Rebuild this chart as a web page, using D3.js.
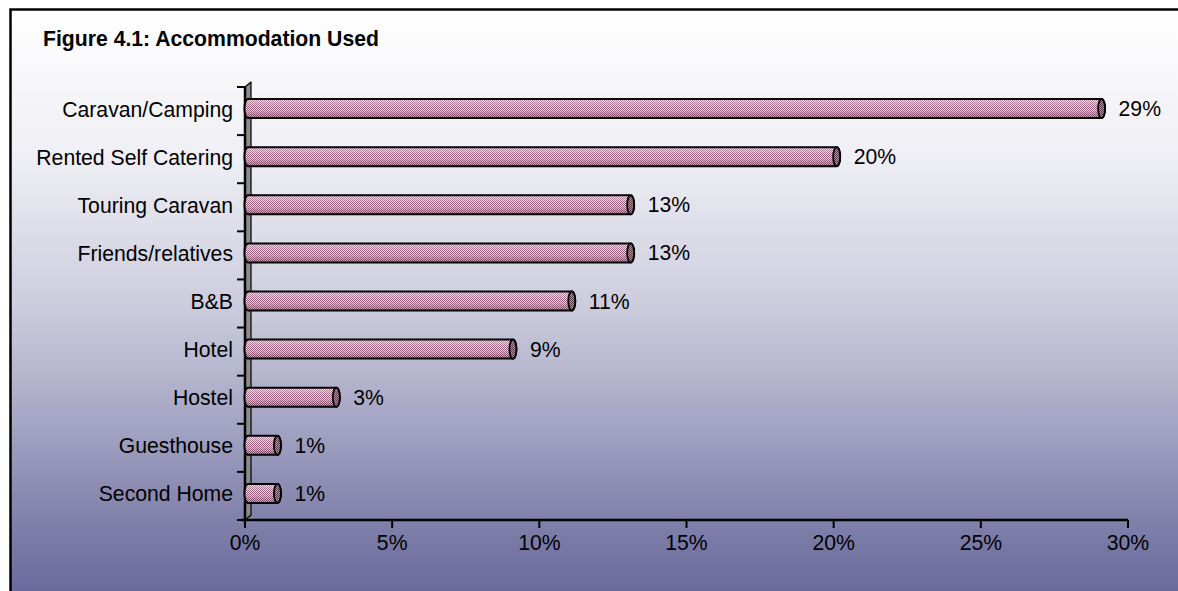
<!DOCTYPE html>
<html>
<head>
<meta charset="utf-8">
<script src="https://cdn.jsdelivr.net/npm/d3@7"></script>
<style>
  html, body { margin: 0; padding: 0; background: #ffffff; }
  svg { display: block; }
  text { font-family: "Liberation Sans", Arial, sans-serif; fill: #000; }
</style>
</head>
<body>
<svg id="chart" width="1178" height="591"></svg>
<script>
// Accommodation types and share of respondents (%)
const categories = [
  "Caravan/Camping",
  "Rented Self Catering",
  "Touring Caravan",
  "Friends/relatives",
  "B&B",
  "Hotel",
  "Hostel",
  "Guesthouse",
  "Second Home"
];
const values = [29, 20, 13, 13, 11, 9, 3, 1, 1];
const valueLabels = ["29%", "20%", "13%", "13%", "11%", "9%", "3%", "1%", "1%"];
const tickValues = [0, 5, 10, 15, 20, 25, 30];
const tickLabels = ["0%", "5%", "10%", "15%", "20%", "25%", "30%"];
const titleText = "Figure 4.1: Accommodation Used";

const W = 1178, H = 591;
const FS = 21.2;
const svg = d3.select("#chart");
const defs = svg.append("defs");

// chart area background: light at the top fading to slate blue at the bottom
const bg = defs.append("linearGradient")
  .attr("id", "bgGrad").attr("x1", 0).attr("y1", 0).attr("x2", 0).attr("y2", 1);
[[0, "#ffffff"], [0.25, "#eeeef4"], [0.5, "#cbcbdd"], [0.7, "#a2a2c2"], [0.85, "#8080aa"], [1, "#64649a"]]
  .forEach(([o, c]) => bg.append("stop").attr("offset", o).attr("stop-color", c));

// dithered mauve fill of the cylinders
const pat = defs.append("pattern")
  .attr("id", "pinkDots").attr("patternUnits", "userSpaceOnUse")
  .attr("width", 2).attr("height", 2);
pat.append("rect").attr("width", 2).attr("height", 2).attr("fill", "#e8d8e0");
pat.append("rect").attr("x", 0).attr("y", 0).attr("width", 1).attr("height", 1).attr("fill", "#9c6080");
pat.append("rect").attr("x", 1).attr("y", 1).attr("width", 1).attr("height", 1).attr("fill", "#9c6080");

const capPat = defs.append("pattern")
  .attr("id", "capDots").attr("patternUnits", "userSpaceOnUse")
  .attr("width", 2).attr("height", 2);
capPat.append("rect").attr("width", 2).attr("height", 2).attr("fill", "#b0909f");
capPat.append("rect").attr("x", 0).attr("y", 0).attr("width", 1).attr("height", 1).attr("fill", "#5e3a4c");
capPat.append("rect").attr("x", 1).attr("y", 1).attr("width", 1).attr("height", 1).attr("fill", "#5e3a4c");

// cylindrical shading laid over the pattern
const shade = defs.append("linearGradient")
  .attr("id", "cylShade").attr("x1", 0).attr("y1", 0).attr("x2", 0).attr("y2", 1);
[[0, "#ffffff", 0.3], [0.3, "#ffffff", 0.1], [0.6, "#000000", 0.0], [1, "#2a0018", 0.3]]
  .forEach(([o, c, a]) => shade.append("stop").attr("offset", o).attr("stop-color", c).attr("stop-opacity", a));

// page frame
svg.append("rect").attr("x", 0).attr("y", 0).attr("width", W).attr("height", H).attr("fill", "#ffffff");
svg.append("rect").attr("x", 10.5).attr("y", 9.5).attr("width", W + 10).attr("height", H + 10)
  .attr("fill", "url(#bgGrad)").attr("stroke", "#000").attr("stroke-width", 2.5);

// title
svg.append("text")
  .attr("x", 43).attr("y", 46)
  .attr("font-size", FS).attr("font-weight", "bold")
  .text(titleText);

// scales
const x = d3.scaleLinear().domain([0, 30]).range([245, 1128]);
const y = d3.scaleBand().domain(categories).range([87, 520]).paddingInner(0).paddingOuter(0);

// 3D depth offset of the plot
const dX = 6, dY = -5;

// side wall beside the category axis
const x0 = x(0), yTop = y.range()[0], yBot = y.range()[1];
svg.append("path")
  .attr("d", `M${x0},${yTop} L${x0 + dX},${yTop + dY} L${x0 + dX},${yBot + dY} L${x0},${yBot} Z`)
  .attr("fill", "#8c8c8c").attr("stroke", "#000").attr("stroke-width", 1.2)
  .attr("stroke-linejoin", "round");
svg.append("line")
  .attr("x1", x0).attr("x2", x0).attr("y1", yTop).attr("y2", yBot)
  .attr("stroke", "#000").attr("stroke-width", 2.5);

// category axis ticks at band boundaries
const bounds = categories.map(c => y(c)).concat([yBot]);
svg.append("g").selectAll("line").data(bounds).join("line")
  .attr("x1", x0 - 8).attr("x2", x0).attr("y1", d => d).attr("y2", d => d)
  .attr("stroke", "#000").attr("stroke-width", 2);

// category labels
svg.append("g").selectAll("text").data(categories).join("text")
  .attr("x", 233)
  .attr("y", d => y(d) + y.bandwidth() / 2 - 2)
  .attr("text-anchor", "end").attr("dominant-baseline", "central")
  .attr("font-size", FS)
  .text(d => d);

// value axis
const xAxis = svg.append("g").attr("transform", `translate(0,${yBot})`);
xAxis.append("line")
  .attr("x1", x0 - 4).attr("x2", x(30)).attr("y1", 0).attr("y2", 0)
  .attr("stroke", "#000").attr("stroke-width", 2.5);
xAxis.selectAll("line.tick").data(tickValues).join("line")
  .attr("class", "tick")
  .attr("x1", d => x(d)).attr("x2", d => x(d)).attr("y1", 0).attr("y2", 8)
  .attr("stroke", "#000").attr("stroke-width", 2);
xAxis.selectAll("text").data(tickValues).join("text")
  .attr("x", d => x(d)).attr("y", 30)
  .attr("text-anchor", "middle")
  .attr("font-size", FS)
  .text((d, i) => tickLabels[i]);

// cylinders
const barH = 19, rx = 3.5, ry = barH / 2;
const bars = svg.append("g").selectAll("g").data(categories).join("g");
bars.each(function (c, i) {
  const g = d3.select(this);
  const cy = y(c) + y.bandwidth() / 2 + dY / 2;
  const xs = x(0) + dX / 2, xe = x(values[i]) + dX / 2;
  const top = cy - ry, bot = cy + ry;
  const body = `M${xs},${top} L${xe},${top} A${rx},${ry} 0 0 1 ${xe},${bot} L${xs},${bot} A${rx},${ry} 0 0 1 ${xs},${top} Z`;
  g.append("path").attr("d", body).attr("fill", "url(#pinkDots)");
  g.append("path").attr("d", body).attr("fill", "url(#cylShade)")
    .attr("stroke", "#000").attr("stroke-width", 2);
  g.append("ellipse")
    .attr("cx", xe).attr("cy", cy).attr("rx", rx).attr("ry", ry)
    .attr("fill", "url(#capDots)").attr("stroke", "#000").attr("stroke-width", 1.8);
  g.append("text")
    .attr("x", xe + 17).attr("y", cy)
    .attr("dominant-baseline", "central")
    .attr("font-size", FS)
    .text(valueLabels[i]);
});
</script>
</body>
</html>
